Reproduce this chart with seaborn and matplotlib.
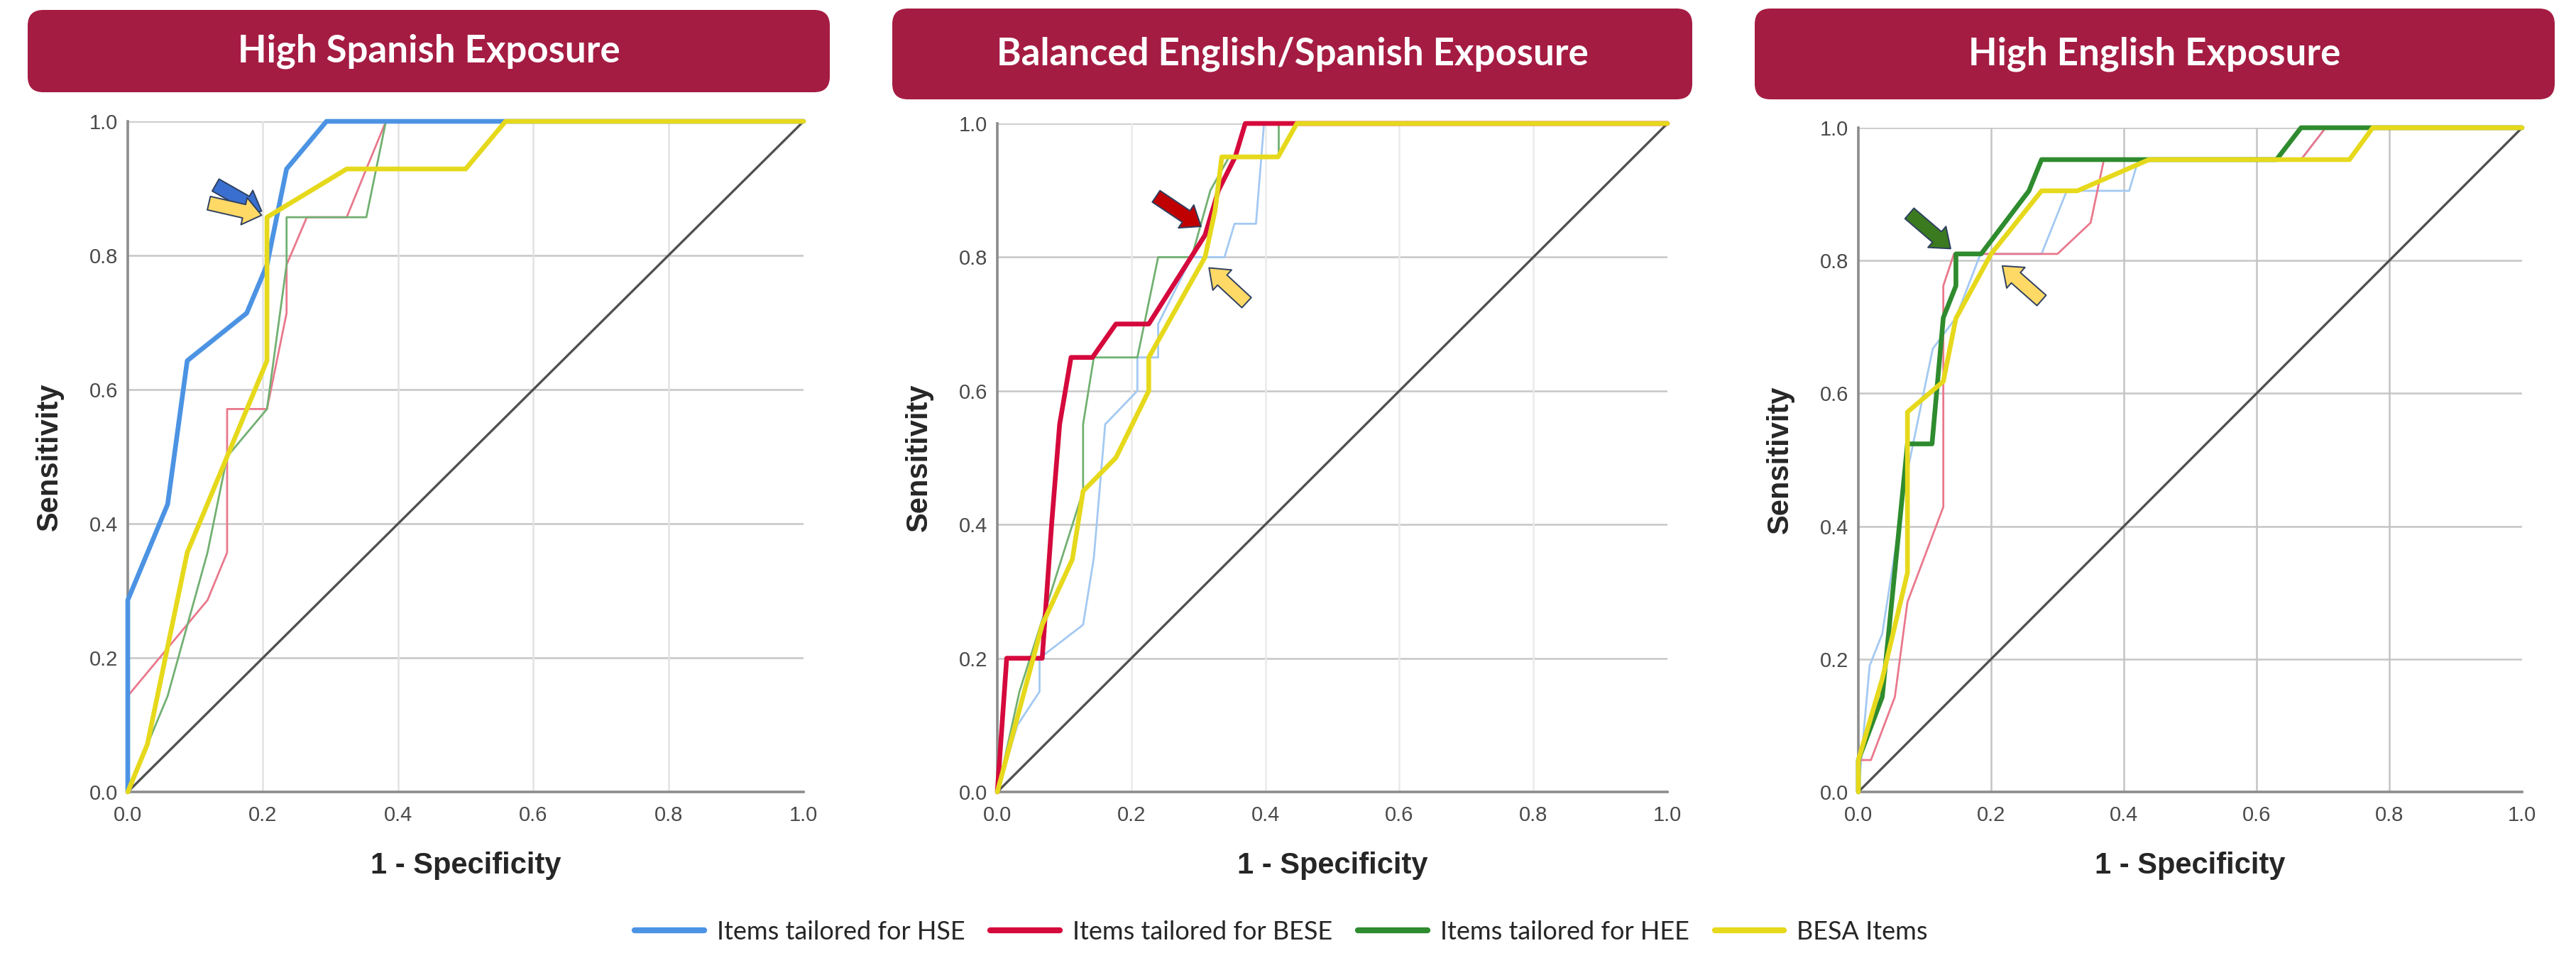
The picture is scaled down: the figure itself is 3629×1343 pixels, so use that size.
import matplotlib.pyplot as plt
from matplotlib.patches import FancyBboxPatch
from matplotlib.lines import Line2D
import seaborn as sns

# ROC curves (x = 1 - specificity, y = sensitivity)

# High Spanish Exposure
hse1_fpr = [0, 0, 0.059, 0.088, 0.176, 0.206, 0.235, 0.294, 1.0]
hse1_tpr = [0, 0.286, 0.429, 0.643, 0.714, 0.786, 0.929, 1.0, 1.0]
bese1_fpr = [0, 0, 0.118, 0.147, 0.147, 0.206, 0.235, 0.235, 0.265, 0.324, 0.353, 0.382, 1.0]
bese1_tpr = [0, 0.143, 0.286, 0.357, 0.571, 0.571, 0.714, 0.786, 0.857, 0.857, 0.929, 1.0, 1.0]
hee1_fpr = [0, 0.059, 0.118, 0.147, 0.206, 0.235, 0.235, 0.353, 0.382, 1.0]
hee1_tpr = [0, 0.143, 0.357, 0.5, 0.571, 0.786, 0.857, 0.857, 1.0, 1.0]
besa1_fpr = [0, 0.029, 0.088, 0.147, 0.206, 0.206, 0.324, 0.5, 0.559, 1.0]
besa1_tpr = [0, 0.071, 0.357, 0.5, 0.643, 0.857, 0.929, 0.929, 1.0, 1.0]

# Balanced English/Spanish Exposure
hse2_fpr = [0, 0.03, 0.063, 0.063, 0.128, 0.144, 0.161, 0.209, 0.209, 0.24, 0.24, 0.29, 0.339, 0.354, 0.386, 0.398, 1.0]
hse2_tpr = [0, 0.1, 0.15, 0.2, 0.25, 0.35, 0.55, 0.6, 0.65, 0.65, 0.7, 0.8, 0.8, 0.85, 0.85, 1.0, 1.0]
bese2_fpr = [0, 0.014, 0.067, 0.081, 0.093, 0.11, 0.142, 0.177, 0.226, 0.31, 0.33, 0.355, 0.37, 1.0]
bese2_tpr = [0, 0.2, 0.2, 0.4, 0.55, 0.65, 0.65, 0.7, 0.7, 0.833, 0.9, 0.95, 1.0, 1.0]
hee2_fpr = [0, 0.033, 0.128, 0.128, 0.144, 0.209, 0.24, 0.29, 0.318, 0.346, 0.42, 0.42, 1.0]
hee2_tpr = [0, 0.15, 0.45, 0.55, 0.65, 0.65, 0.8, 0.8, 0.9, 0.95, 0.95, 1.0, 1.0]
besa2_fpr = [0, 0.067, 0.112, 0.128, 0.177, 0.226, 0.226, 0.31, 0.325, 0.335, 0.419, 0.447, 1.0]
besa2_tpr = [0, 0.25, 0.348, 0.45, 0.5, 0.6, 0.65, 0.8, 0.87, 0.95, 0.95, 1.0, 1.0]

# High English Exposure
hse3_fpr = [0, 0.017, 0.036, 0.074, 0.112, 0.147, 0.184, 0.276, 0.314, 0.408, 0.422, 0.667, 0.704, 1.0]
hse3_tpr = [0, 0.19, 0.238, 0.483, 0.667, 0.714, 0.81, 0.81, 0.905, 0.905, 0.952, 0.952, 1.0, 1.0]
bese3_fpr = [0, 0, 0.019, 0.055, 0.074, 0.128, 0.128, 0.144, 0.3, 0.35, 0.37, 0.667, 0.704, 1.0]
bese3_tpr = [0, 0.048, 0.048, 0.143, 0.286, 0.429, 0.762, 0.81, 0.81, 0.857, 0.952, 0.952, 1.0, 1.0]
hee3_fpr = [0, 0, 0.036, 0.055, 0.074, 0.111, 0.128, 0.147, 0.147, 0.185, 0.257, 0.276, 0.63, 0.667, 1.0]
hee3_tpr = [0, 0.048, 0.143, 0.333, 0.524, 0.524, 0.714, 0.762, 0.81, 0.81, 0.905, 0.952, 0.952, 1.0, 1.0]
besa3_fpr = [0, 0, 0.036, 0.074, 0.074, 0.128, 0.147, 0.2, 0.276, 0.33, 0.438, 0.74, 0.775, 1.0]
besa3_tpr = [0, 0.048, 0.17, 0.33, 0.572, 0.618, 0.713, 0.81, 0.905, 0.905, 0.952, 0.952, 1.0, 1.0]

titles = ["High Spanish Exposure", "Balanced English/Spanish Exposure", "High English Exposure"]
series_names = ["Items tailored for HSE", "Items tailored for BESE", "Items tailored for HEE", "BESA Items"]
ticks = [0.0, 0.2, 0.4, 0.6, 0.8, 1.0]

# colours: (strong, faded) for each series
colors = {
    "HSE": ("#4C93E3", "#A3C9F2"),
    "BESE": ("#D5093C", "#E9788C"),
    "HEE": ("#2E8B2E", "#72B072"),
    "BESA": ("#E6D91C", "#E6D91C"),
}

panels = [
    {"HSE": (hse1_fpr, hse1_tpr), "BESE": (bese1_fpr, bese1_tpr),
     "HEE": (hee1_fpr, hee1_tpr), "BESA": (besa1_fpr, besa1_tpr), "main": "HSE"},
    {"HSE": (hse2_fpr, hse2_tpr), "BESE": (bese2_fpr, bese2_tpr),
     "HEE": (hee2_fpr, hee2_tpr), "BESA": (besa2_fpr, besa2_tpr), "main": "BESE"},
    {"HSE": (hse3_fpr, hse3_tpr), "BESE": (bese3_fpr, bese3_tpr),
     "HEE": (hee3_fpr, hee3_tpr), "BESA": (besa3_fpr, besa3_tpr), "main": "HEE"},
]

# block arrows: (tail, tip, fill colour) in data coords
arrows = [
    [((0.13, 0.905), (0.198, 0.866), "#3A6FCF"), ((0.12, 0.878), (0.198, 0.860), "#FFD966")],
    [((0.237, 0.891), (0.304, 0.846), "#C00000"), ((0.372, 0.732), (0.316, 0.784), "#FFD966")],
    [((0.077, 0.871), (0.139, 0.818), "#3B7A1F"), ((0.276, 0.740), (0.217, 0.792), "#FFD966")],
]

sns.set_style("white")
plt.rcParams['font.family'] = ['Liberation Sans', 'DejaVu Sans']

W, H = 3629, 1343
fig = plt.figure(figsize=(W / 100, H / 100), dpi=100)

# axes boxes in pixels: left, top, right, bottom
ax_px = [(180, 171, 1132, 1116), (1405, 174, 2349, 1116), (2618, 180, 3553, 1116)]
box_px = [(39, 14, 1169, 130), (1257, 12, 2384, 140), (2472, 12, 3599, 140)]
vgrid_col = ["#e2e2e2", "#eaeaea", "#c4c4c4"]

for i, panel in enumerate(panels):
    l, t, r, b = ax_px[i]
    ax = fig.add_axes([l / W, 1 - b / H, (r - l) / W, (b - t) / H])

    for g in [0.2, 0.4, 0.6, 0.8, 1.0]:
        ax.axhline(g, color="#c6c6c6", lw=1.8, zorder=0)
    for g in [0.2, 0.4, 0.6, 0.8]:
        ax.axvline(g, color=vgrid_col[i], lw=1.8, zorder=0)

    sns.lineplot(x=[0, 1], y=[0, 1], color="#505050", lw=2.4, ax=ax, sort=False, estimator=None)

    main = panel["main"]
    order = [k for k in ["HSE", "BESE", "HEE"] if k != main] + [main, "BESA"]
    for k in order:
        fpr, tpr = panel[k]
        strong = k == main or k == "BESA"
        col = colors[k][0] if strong else colors[k][1]
        sns.lineplot(x=fpr, y=tpr, sort=False, estimator=None, ax=ax, color=col,
                     lw=4.8 if strong else 2.0, clip_on=False, zorder=3 if strong else 2)

    for tail, tip, fc in arrows[i]:
        ax.annotate("", xy=tip, xytext=tail, zorder=6,
                    arrowprops=dict(arrowstyle="simple,head_length=1.3,head_width=2.0,tail_width=1.0",
                                    fc=fc, ec="#2F4060", lw=1.4, mutation_scale=14,
                                    shrinkA=0, shrinkB=0))

    ax.set_xlim(0, 1)
    ax.set_ylim(0, 1)
    ax.set_xticks(ticks)
    ax.set_yticks(ticks)
    ax.set_xticklabels([f"{v:.1f}" for v in ticks])
    ax.set_yticklabels([f"{v:.1f}" for v in ticks])
    ax.tick_params(length=0, labelsize=21, labelcolor="#4a4a4a", pad=10)
    ax.tick_params(axis="x", pad=14)
    for s in ["top", "right"]:
        ax.spines[s].set_visible(False)
    for s in ["left", "bottom"]:
        ax.spines[s].set_color("#8c8c8c")
        ax.spines[s].set_linewidth(2.6)
    ax.set_xlabel("1 - Specificity", fontsize=30, fontweight="bold", labelpad=26)
    ax.set_ylabel("Sensitivity", fontsize=30, fontweight="bold", labelpad=26)

    # title banner
    bl, bt, br, bb = box_px[i]
    fig.patches.append(FancyBboxPatch(((bl) / 100, (H - bb) / 100), (br - bl) / 100, (bb - bt) / 100,
                                      boxstyle="round,pad=0,rounding_size=0.22",
                                      transform=fig.dpi_scale_trans, fc="#A51C43", ec="none"))
    fig.text((bl + br) / 2 / W, 1 - (bt + bb) / 2 / H, titles[i], color="white",
             fontsize=38, fontweight="bold", family=["Lato", "DejaVu Sans"],
             ha="center", va="center")

handles = [Line2D([], [], color=colors[k][0], lw=6) for k in ["HSE", "BESE", "HEE", "BESA"]]
fig.legend(handles, series_names, loc="center", bbox_to_anchor=(1805 / W, 1 - 1313 / H),
           ncol=4, frameon=False, prop={"family": "Lato", "size": 26},
           handlelength=2.7, handletextpad=0.5, columnspacing=1.0)

fig.savefig("out.png", dpi=100)
